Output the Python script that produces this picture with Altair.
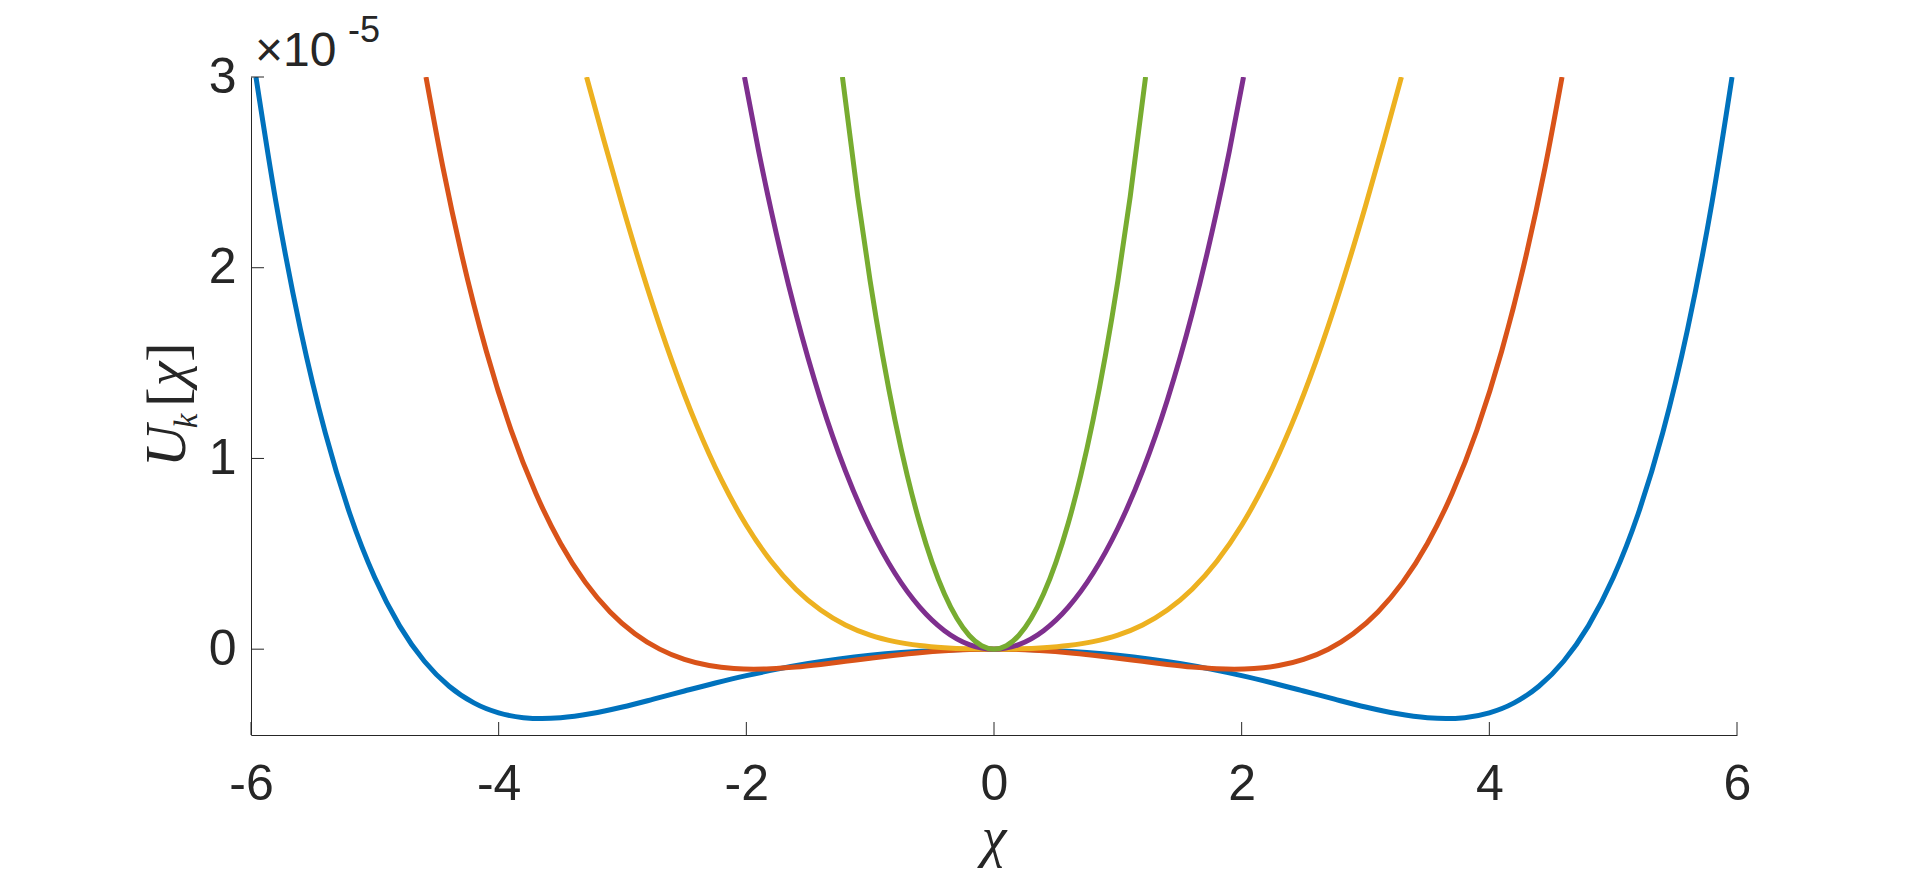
import altair as alt
import pandas as pd

# Readings of the right half (chi >= 0); every curve is mirror-symmetric about chi = 0.
# U values are in units of 1e-5 (the axis carries the "x10^-5" factor).
blue_x = [0, 0.25, 0.5, 0.75, 1.0, 1.25, 1.5, 1.75, 2.0, 2.25, 2.5, 2.75, 3.0, 3.25, 3.5,
          3.65, 3.8, 4.0, 4.2, 4.4, 4.6, 4.8, 5.0, 5.2, 5.4, 5.6, 5.8, 5.96]
blue_u = [0, -0.0019, -0.0078, -0.0178, -0.0322, -0.0513, -0.0755, -0.1048, -0.1390, -0.1776,
          -0.2194, -0.2622, -0.3031, -0.3376, -0.3597, -0.364, -0.3590, -0.3339, -0.2816,
          -0.1944, -0.0633, 0.1222, 0.3740, 0.7060, 1.1337, 1.6749, 2.3494, 3.0]

red_x = [0, 0.2, 0.4, 0.6, 0.8, 1.0, 1.2, 1.4, 1.6, 1.8, 1.94, 2.1, 2.3, 2.5, 2.7, 2.9, 3.1,
         3.3, 3.5, 3.7, 3.9, 4.1, 4.3, 4.45, 4.587]
red_u = [0, -0.0021, -0.0084, -0.0185, -0.0318, -0.0473, -0.0639, -0.0800, -0.0937, -0.1029,
         -0.105, -0.1016, -0.0860, -0.0537, 0.0001, 0.0808, 0.1951, 0.3501, 0.5543, 0.8171,
         1.1494, 1.5633, 2.0724, 2.5257, 3.0]

yellow_x = [0, 0.2, 0.4, 0.6, 0.8, 1.0, 1.2, 1.4, 1.6, 1.8, 2.0, 2.2, 2.4, 2.6, 2.8, 3.0,
            3.15, 3.29]
yellow_u = [0, 0.0016, 0.0072, 0.0188, 0.0396, 0.0740, 0.1273, 0.2054, 0.3145, 0.4608, 0.6497,
            0.8859, 1.1722, 1.5094, 1.8954, 2.324, 2.668, 3.0]

purple_x = [0, 0.2, 0.4, 0.6, 0.8, 1.0, 1.2, 1.4, 1.6, 1.8, 1.9, 2.015]
purple_u = [0, 0.0241, 0.0969, 0.2204, 0.3979, 0.634, 0.9345, 1.3066, 1.7588, 2.3009, 2.6091,
            3.0]

green_x = [0, 0.1, 0.2, 0.3, 0.4, 0.5, 0.6, 0.7, 0.8, 0.9, 1.0, 1.1, 1.224]
green_u = [0, 0.0178, 0.0716, 0.1618, 0.2892, 0.4552, 0.6613, 0.9094, 1.2017, 1.5409, 1.9301,
           2.3724, 3.0]

curve_names = ["blue", "red", "yellow", "purple", "green"]
curve_colors = ["#0072BD", "#D95319", "#EDB120", "#7E2F8E", "#77AC30"]
curve_data = [(blue_x, blue_u), (red_x, red_u), (yellow_x, yellow_u),
              (purple_x, purple_u), (green_x, green_u)]

x_ticks = [-6, -4, -2, 0, 2, 4, 6]
y_ticks = [0, 1, 2, 3]

W, H = 1486, 658
AX = "#262626"


def mirrored(xs, us):
    left_x = [-v for v in reversed(xs[1:])]
    left_u = list(reversed(us[1:]))
    return left_x + xs, left_u + us


x_scale = alt.Scale(domain=[-6, 6], nice=False, zero=False)
y_scale = alt.Scale(domain=[-0.45, 3], nice=False, zero=False)

x_axis = alt.Axis(values=x_ticks, ticks=False, tickSize=0, grid=False, domainColor=AX,
                  domainWidth=1, labelFont="Liberation Sans", labelFontSize=50,
                  labelColor=AX, labelPadding=24, labelBaseline="top", title=None,
                  labelFlush=False, labelOverlap=False,
                  labelExpr="datum.value < 0 ? '-' + abs(datum.value) : '' + datum.value")
y_axis = alt.Axis(values=y_ticks, ticks=False, tickSize=0, grid=False, domainColor=AX,
                  domainWidth=1, labelFont="Liberation Sans", labelFontSize=50,
                  labelColor=AX, labelPadding=15, title=None, format="d",
                  labelFlush=False, labelOverlap=False)

layers = []
for name, col, (xs, us) in zip(curve_names, curve_colors, curve_data):
    fx, fu = mirrored(xs, us)
    df = pd.DataFrame({"chi": fx, "u": fu})
    layers.append(
        alt.Chart(df).mark_line(color=col, strokeWidth=5, interpolate="monotone", clip=True)
        .encode(x=alt.X("chi:Q", scale=x_scale, axis=x_axis),
                y=alt.Y("u:Q", scale=y_scale, axis=y_axis))
    )

# inward tick marks
xt = alt.Chart(pd.DataFrame({"chi": x_ticks})).mark_rule(color=AX, strokeWidth=1).encode(
    x=alt.X("chi:Q", scale=x_scale, axis=x_axis), y=alt.value(H), y2=alt.value(H - 13))
yt = alt.Chart(pd.DataFrame({"u": y_ticks})).mark_rule(color=AX, strokeWidth=1).encode(
    y=alt.Y("u:Q", scale=y_scale, axis=y_axis), x=alt.value(0), x2=alt.value(13))
layers += [xt, yt]

one = pd.DataFrame({"a": [0]})


def label(txt, x, y, size, font="Liberation Serif", style="italic", angle=0, align="center",
          baseline="alphabetic"):
    return alt.Chart(one).mark_text(text=txt, font=font, fontSize=size, fontStyle=style,
                                    color=AX, angle=angle, align=align, baseline=baseline
                                    ).encode(x=alt.value(x), y=alt.value(y))


# exponent factor
layers.append(label("\u00d710", 4, -11, 48, font="Liberation Sans", style="normal", align="left"))
layers.append(label("-5", 97, -35, 36, font="Liberation Sans", style="normal", align="left"))
# y title U_k[chi]
layers.append(label("U", -65.7, 369, 58, angle=270))
layers.append(label("k", -53.7, 344, 33, angle=270))
layers.append(label("[", -65, 320, 58, style="normal", angle=270))
layers.append(label("\u03c7", -66, 297, 56, angle=270))
layers.append(label("]", -65, 275, 58, style="normal", angle=270))
# x title chi
layers.append(label("\u03c7", W / 2, 779, 56))

chart = alt.layer(*layers).properties(
    width=W, height=H,
    autosize=alt.AutoSizeParams(type="none"),
    padding={"left": 243, "top": 69, "right": 100, "bottom": 134},
).configure_view(stroke=None)

chart.save("out.html", embed_options={"renderer": "svg", "actions": False})
